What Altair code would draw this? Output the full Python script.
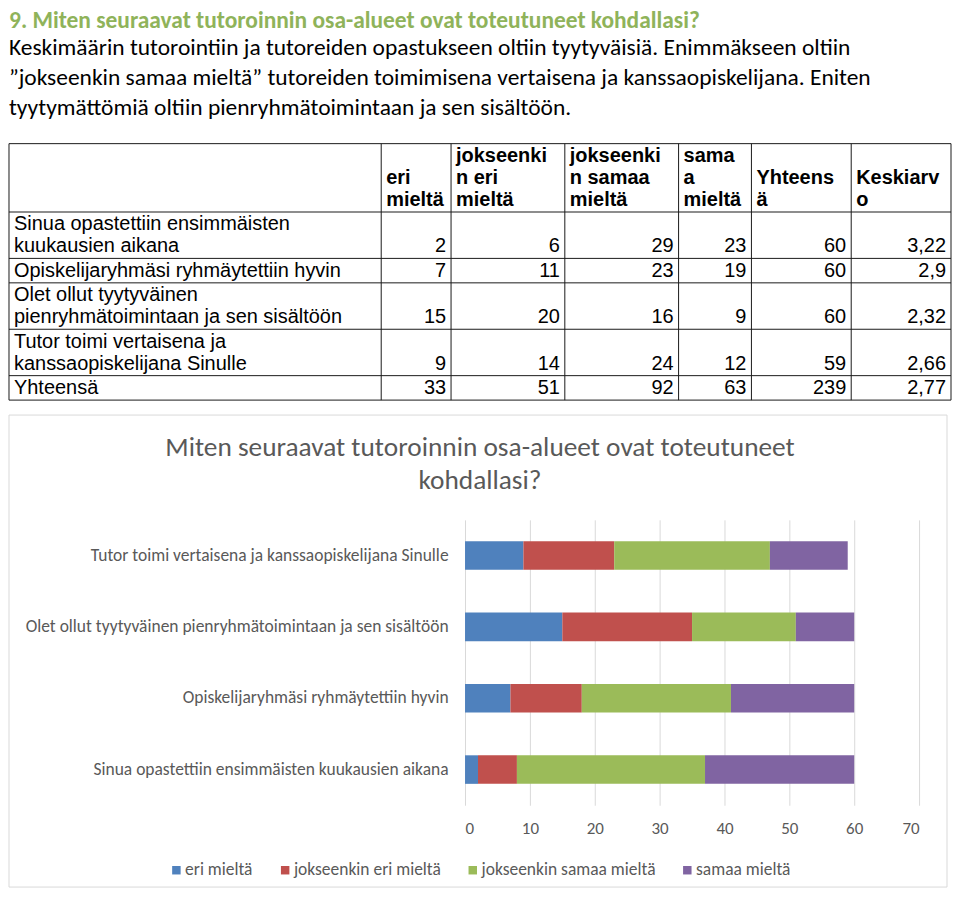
import altair as alt
import pandas as pd

# ---------------- data ----------------
heading = "9. Miten seuraavat tutoroinnin osa-alueet ovat toteutuneet kohdallasi?"
intro_lines = [
    "Keskimäärin tutorointiin ja tutoreiden opastukseen oltiin tyytyväisiä. Enimmäkseen oltiin",
    "”jokseenkin samaa mieltä” tutoreiden toimimisena vertaisena ja kanssaopiskelijana. Eniten",
    "tyytymättömiä oltiin pienryhmätoimintaan ja sen sisältöön.",
]

header_cells = ["", "eri\nmieltä", "jokseenki\nn eri\nmieltä", "jokseenki\nn samaa\nmieltä",
                "sama\na\nmieltä", "Yhteens\nä", "Keskiarv\no"]
row_labels = [
    "Sinua opastettiin ensimmäisten\nkuukausien aikana",
    "Opiskelijaryhmäsi ryhmäytettiin hyvin",
    "Olet ollut tyytyväinen\npienryhmätoimintaan ja sen sisältöön",
    "Tutor toimi vertaisena ja\nkanssaopiskelijana Sinulle",
    "Yhteensä",
]
eri_mielta = [2, 7, 15, 9, 33]
jokseenkin_eri = [6, 11, 20, 14, 51]
jokseenkin_samaa = [29, 23, 16, 24, 92]
samaa_mielta = [23, 19, 9, 12, 63]
yhteensa = [60, 60, 60, 59, 239]
keskiarvo = ["3,22", "2,9", "2,32", "2,66", "2,77"]

chart_title = ["Miten seuraavat tutoroinnin osa-alueet ovat toteutuneet", "kohdallasi?"]
chart_items = [
    "Sinua opastettiin ensimmäisten kuukausien aikana",
    "Opiskelijaryhmäsi ryhmäytettiin hyvin",
    "Olet ollut tyytyväinen pienryhmätoimintaan ja sen sisältöön",
    "Tutor toimi vertaisena ja kanssaopiskelijana Sinulle",
]
answer_levels = ["eri mieltä", "jokseenkin eri mieltä", "jokseenkin samaa mieltä", "samaa mieltä"]
level_colors = ["#4F81BD", "#C0504D", "#9BBB59", "#8064A2"]
x_ticks = [0, 10, 20, 30, 40, 50, 60, 70]

# ---------------- fonts / styles ----------------
CAL = "Carlito, Lato, sans-serif"
ARIAL = "'Liberation Sans', Arial, sans-serif"
GRAY = "#595959"
GREEN = "#8FB35A"

# bar chart geometry (plot area inside the framed chart box)
PLOT_W, PLOT_H = 455, 286
BOX_L, BOX_R, BOX_T, BOX_B = -457, 483, -105, 368   # frame relative to plot origin
OFF = -BOX_L                                         # left overhang shared by both panels

# ---------------- table layout ----------------
COL_W = [373, 70, 114, 114, 73, 100, 100]
LINE_H = 22
PAD_X = 5
col_edges = [0]
for w in COL_W:
    col_edges.append(col_edges[-1] + w)
TW = col_edges[-1]

table_rows = [header_cells] + [
    [row_labels[i], str(eri_mielta[i]), str(jokseenkin_eri[i]), str(jokseenkin_samaa[i]),
     str(samaa_mielta[i]), str(yhteensa[i]), keskiarvo[i]]
    for i in range(len(row_labels))
]
row_lines = [max(c.count("\n") + 1 for c in row) for row in table_rows]
row_edges = [0.0]
for n in row_lines:
    row_edges.append(row_edges[-1] + LINE_H * n + 2.5)
TH = row_edges[-1]

cells = []
for i, row in enumerate(table_rows):
    for j, txt in enumerate(row):
        if txt == "":
            continue
        left = (i == 0) or (j == 0)
        nl = txt.count("\n")
        cells.append({
            "txt": txt,
            "x": col_edges[j] + PAD_X if left else col_edges[j + 1] - PAD_X,
            "y": row_edges[i + 1] - 2 - nl * LINE_H,
            "kind": "hdr" if i == 0 else ("left" if left else "right"),
        })
cells_df = pd.DataFrame(cells)

rules = [{"x": e, "x2": e, "y": 0, "y2": TH} for e in col_edges] + \
        [{"x": 0, "x2": TW, "y": e, "y2": e} for e in row_edges]
rules_df = pd.DataFrame(rules)

xs = alt.Scale(domain=[0, TW], range=[-OFF, TW - OFF], nice=False, zero=False)
ys = alt.Scale(domain=[0, TH], range=[0, TH], nice=False, zero=False)

t_rules = alt.Chart(rules_df).mark_rule(color="#1a1a1a", strokeWidth=1).encode(
    x=alt.X("x:Q", scale=xs, axis=None), x2="x2:Q",
    y=alt.Y("y:Q", scale=ys, axis=None), y2="y2:Q",
)


def text_layer(kind, align, weight):
    return alt.Chart(cells_df).transform_filter(f"datum.kind == '{kind}'").mark_text(
        align=align, baseline="bottom", font=ARIAL, fontSize=20, fontWeight=weight,
        lineBreak="\n", lineHeight=LINE_H, color="#000"
    ).encode(x=alt.X("x:Q", scale=xs, axis=None), y=alt.Y("y:Q", scale=ys, axis=None),
             text="txt:N")


table = alt.layer(
    t_rules, text_layer("hdr", "left", "bold"), text_layer("left", "left", "normal"),
    text_layer("right", "right", "normal")
).properties(
    width=TW - OFF, height=TH,
    title=alt.TitleParams(
        text=heading, subtitle=intro_lines, anchor="start", frame="group", dx=-OFF,
        font=CAL, fontSize=23.5, fontWeight="bold", color=GREEN,
        subtitleFont=CAL, subtitleFontSize=23.5, subtitleColor="#000",
        subtitleLineHeight=30, subtitlePadding=3, offset=24,
    ),
)

# ---------------- bar chart ----------------
bar_rows = []
for i, item in enumerate(chart_items):
    vals = [eri_mielta[i], jokseenkin_eri[i], jokseenkin_samaa[i], samaa_mielta[i]]
    for k, lev in enumerate(answer_levels):
        bar_rows.append({"item": item, "level": lev, "k": k, "value": vals[k]})
bar_df = pd.DataFrame(bar_rows)

frame = alt.Chart(pd.DataFrame({"a": [0]})).mark_rect(
    fill="transparent", stroke="#D9D9D9", strokeWidth=1
).encode(x=alt.value(BOX_L), x2=alt.value(BOX_R), y=alt.value(BOX_T), y2=alt.value(BOX_B))

bars = alt.Chart(bar_df).mark_bar().encode(
    x=alt.X("value:Q", stack="zero",
            scale=alt.Scale(domain=[0, 70], nice=False),
            axis=alt.Axis(values=x_ticks, title=None, grid=True, gridColor="#D9D9D9",
                          ticks=False, domain=False, labelFont=CAL, labelFontSize=17,
                          labelColor=GRAY, labelPadding=15)),
    y=alt.Y("item:N", sort=list(reversed(chart_items)),
            scale=alt.Scale(paddingInner=0.6, paddingOuter=0.3),
            axis=alt.Axis(title=None, ticks=False, domain=False, labelFont=CAL,
                          labelFontSize=17.5, labelColor=GRAY, labelPadding=17,
                          labelLimit=600)),
    color=alt.Color("level:N", scale=alt.Scale(domain=answer_levels, range=level_colors),
                    legend=alt.Legend(orient="none", legendX=-298, legendY=342,
                                      direction="horizontal", columns=4, title=None,
                                      symbolType="square", symbolSize=72,
                                      symbolStrokeWidth=0, labelFont=CAL,
                                      labelFontSize=17.5, labelColor=GRAY,
                                      columnPadding=23, labelOffset=0, labelLimit=300)),
    order=alt.Order("k:Q", sort="ascending"),
)

bar_chart = alt.layer(frame, bars).properties(
    width=PLOT_W, height=PLOT_H,
    title=alt.TitleParams(
        text=chart_title, anchor="middle", frame="group", font=CAL, fontSize=27.4,
        fontWeight="normal", color=GRAY, lineHeight=33, offset=0, dy=80, dx=-212.5,
    ),
)

chart = alt.concat(table, bar_chart, columns=1, spacing=13, bounds="full").resolve_scale(
    color="independent"
).properties(padding=0).configure_view(stroke=None)

chart.save("out.html", embed_options={"renderer": "svg", "actions": False})
